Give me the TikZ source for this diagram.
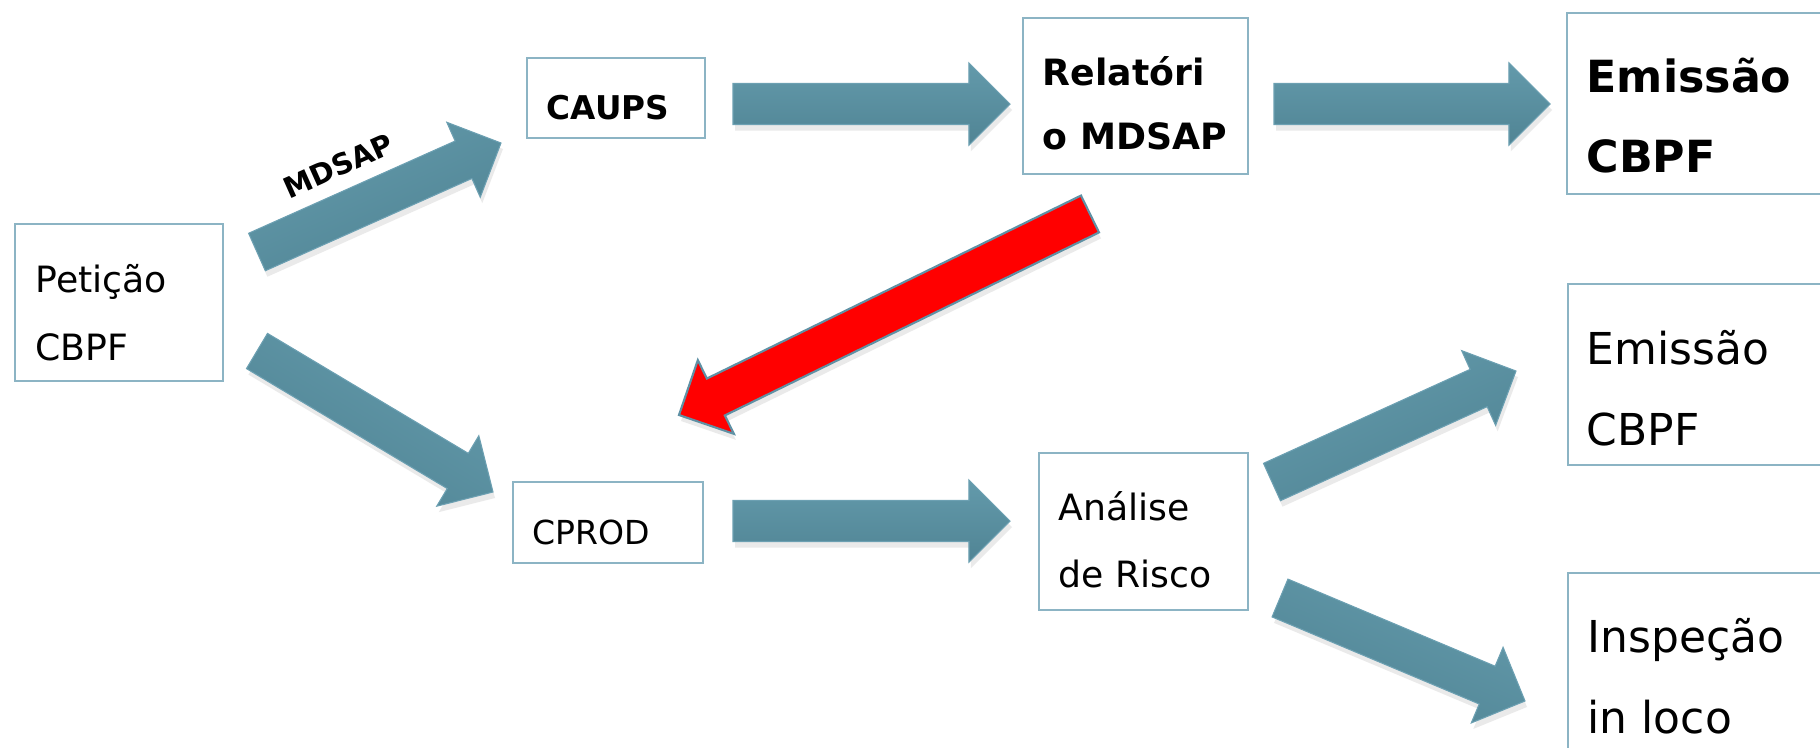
\documentclass[tikz,border=0pt]{standalone}
\usepackage{fontspec}
\setmainfont{DejaVu Sans}
\usepackage{tikz}
\usetikzlibrary{calc,shadows}

\definecolor{boxline}{RGB}{140,180,196}
\definecolor{arrowtop}{RGB}{99,154,171}
\definecolor{arrowbot}{RGB}{80,132,148}
\definecolor{arrowline}{RGB}{108,160,178}
\definecolor{redline}{RGB}{95,145,165}

\newcommand{\fsz}[2]{\fontsize{#1pt}{#2pt}\selectfont}
% block arrow from tail centre #2 to tip #3
\newcommand{\blockarrow}[3][flowarrow]{%
  \coordinate (hb) at ($(#3)!0.41cm!(#2)$);
  \path[#1] ($(#2)!0.205cm!90:(#3)$) -- ($(hb)!0.205cm!90:(#3)$)
    -- ($(hb)!0.41cm!90:(#3)$) -- (#3) -- ($(hb)!0.41cm!-90:(#3)$)
    -- ($(hb)!0.205cm!-90:(#3)$) -- ($(#2)!0.205cm!-90:(#3)$) -- cycle;
}

\tikzset{
  box/.style={draw=boxline, line width=0.5pt, fill=white, anchor=north west, inner sep=0pt},
  txt/.style={anchor=base west, align=left, inner sep=0pt}, % base = last line
  flowarrow/.style={top color=arrowtop, bottom color=arrowbot, draw=arrowline, line width=0.3pt,
    drop shadow={opacity=0.16, shadow xshift=0.02cm, shadow yshift=-0.06cm}},
  backarrow/.style={fill=red, draw=redline, line width=0.6pt,
    drop shadow={opacity=0.16, shadow xshift=0.02cm, shadow yshift=-0.06cm}}
}

\begin{document}
\begin{tikzpicture}[x=0.01cm, y=-0.01cm]
    \useasboundingbox[fill=white] (0,0) rectangle (1820,748);
    \clip (0,0) rectangle (1820,748);

    % boxes
    \node[box, minimum width=2.08cm, minimum height=1.57cm] (pet) at (14,223) {};
    \node[box, minimum width=1.78cm, minimum height=0.80cm] (caups) at (526,57) {};
    \node[box, minimum width=2.25cm, minimum height=1.56cm] (relat) at (1022,17) {};
    \node[box, minimum width=3.00cm, minimum height=1.81cm] (emis) at (1566,12) {};
    \node[box, minimum width=1.90cm, minimum height=0.81cm] (cprod) at (512,481) {};
    \node[box, minimum width=2.09cm, minimum height=1.57cm] (risco) at (1038,452) {};
    \node[box, minimum width=3.00cm, minimum height=1.81cm] (emisb) at (1567,283) {};
    \node[box, minimum width=3.00cm, minimum height=2.50cm] (insp) at (1567,572) {};

    % texts
    \node[txt, font=\fsz{10.3}{19.1}] (petT) at (35,360) {Petição\\CBPF};
    \node[txt, font=\bfseries\fsz{9.3}{11}] (caupsT) at (546,119) {CAUPS};
    \node[txt, font=\bfseries\fsz{10.3}{18.2}] (relatT) at (1042,149) {Relatóri\\o MDSAP};
    \node[txt, font=\bfseries\fsz{12.6}{22.5}] (emisT) at (1586,172) {Emissão\\CBPF};
    \node[txt, font=\fsz{9.4}{11}] (cprodT) at (532,544) {CPROD};
    \node[txt, font=\fsz{10.3}{18.8}] (riscoT) at (1058,587) {Análise\\de Risco};
    \node[txt, font=\fsz{12.5}{23}] (emisbT) at (1586,445) {Emissão\\CBPF};
    \node[txt, font=\fsz{12.5}{23}] (inspT) at (1587,733) {Inspeção\\in loco};

    % arrow ends
    \coordinate (a1s) at (257,252);  \coordinate (a1e) at (501,143);  % to CAUPS
    \coordinate (a2s) at (257,351);  \coordinate (a2e) at (493,492);  % to CPROD
    \coordinate (a3s) at (733,104);  \coordinate (a3e) at (1010,104);
    \coordinate (a4s) at (1274,104); \coordinate (a4e) at (1550,104);
    \coordinate (a5s) at (733,521);  \coordinate (a5e) at (1010,521);
    \coordinate (a6s) at (1272,482); \coordinate (a6e) at (1516,371);
    \coordinate (a7s) at (1280,598); \coordinate (a7e) at (1525,701);
    \coordinate (a8s) at (1090,214); \coordinate (a8e) at (679,415);  % back to CPROD

    % arrows
    \blockarrow[flowarrow, shading angle=24]{a1s}{a1e}
    \blockarrow[flowarrow, shading angle=-31]{a2s}{a2e}
    \blockarrow{a3s}{a3e}
    \blockarrow{a4s}{a4e}
    \blockarrow{a5s}{a5e}
    \blockarrow[flowarrow, shading angle=24]{a6s}{a6e}
    \blockarrow[flowarrow, shading angle=-23]{a7s}{a7e}
    \blockarrow[backarrow]{a8s}{a8e}

    \path (a1s) -- (a1e) node[pos=0.41, sloped, above=0.34cm, inner sep=0pt,
        font=\bfseries\fsz{8.2}{9}] (mdsap) {MDSAP};
\end{tikzpicture}
\end{document}
